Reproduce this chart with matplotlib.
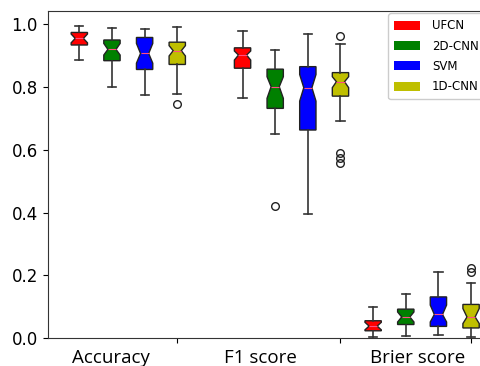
import numpy as np
import matplotlib
matplotlib.use("Agg")
import matplotlib.pyplot as plt
from matplotlib.patches import Patch

# methods and metrics
methods = ["UFCN", "2D-CNN", "SVM", "1D-CNN"]
colors = ["r", "g", "b", "y"]
metrics = ["Accuracy", "F1 score", "Brier score"]
positions = [[1, 2, 3, 4], [6, 7, 8, 9], [10, 11, 12, 13]]

# box stats, per metric, per method
acc_med = [0.955, 0.920, 0.907, 0.916]
acc_q1 = [0.934, 0.884, 0.856, 0.872]
acc_q3 = [0.974, 0.950, 0.958, 0.943]
acc_lo = [0.887, 0.801, 0.774, 0.778]
acc_hi = [0.994, 0.987, 0.984, 0.992]
acc_cilo = [0.941, 0.902, 0.876, 0.899]
acc_cihi = [0.969, 0.939, 0.939, 0.932]
acc_fliers = [[], [], [], [0.746]]

f1_med = [0.902, 0.801, 0.798, 0.817]
f1_q1 = [0.860, 0.732, 0.663, 0.771]
f1_q3 = [0.925, 0.857, 0.865, 0.846]
f1_lo = [0.765, 0.649, 0.394, 0.693]
f1_hi = [0.979, 0.918, 0.968, 0.937]
f1_cilo = [0.886, 0.764, 0.755, 0.798]
f1_cihi = [0.915, 0.833, 0.840, 0.833]
f1_fliers = [[], [0.421], [], [0.963, 0.589, 0.573, 0.557]]

br_med = [0.038, 0.067, 0.075, 0.067]
br_q1 = [0.023, 0.043, 0.037, 0.032]
br_q3 = [0.055, 0.092, 0.131, 0.107]
br_lo = [0.002, 0.007, 0.011, 0.004]
br_hi = [0.099, 0.139, 0.210, 0.176]
br_cilo = [0.026, 0.051, 0.051, 0.046]
br_cihi = [0.050, 0.083, 0.105, 0.094]
br_fliers = [[], [], [], [0.222, 0.210]]

groups = [
    (acc_med, acc_q1, acc_q3, acc_lo, acc_hi, acc_cilo, acc_cihi, acc_fliers),
    (f1_med, f1_q1, f1_q3, f1_lo, f1_hi, f1_cilo, f1_cihi, f1_fliers),
    (br_med, br_q1, br_q3, br_lo, br_hi, br_cilo, br_cihi, br_fliers),
]

fig = plt.figure(figsize=(4.8, 3.66), dpi=100)
ax = fig.add_axes([0.0994, 0.0765, 0.95, 0.8943])

for g, (med, q1, q3, lo, hi, cilo, cihi, fl) in enumerate(groups):
    stats = []
    for i in range(4):
        stats.append(dict(med=med[i], q1=q1[i], q3=q3[i], whislo=lo[i],
                          whishi=hi[i], cilo=cilo[i], cihi=cihi[i],
                          fliers=np.array(fl[i])))
    bp = ax.bxp(stats, positions=positions[g], widths=0.5, shownotches=True,
                patch_artist=True, manage_ticks=False,
                boxprops=dict(edgecolor="#222222", linewidth=1.0),
                whiskerprops=dict(color="#333333", linewidth=1.2),
                capprops=dict(color="#333333", linewidth=1.2),
                medianprops=dict(color="#ff4d80", linewidth=0.8),
                flierprops=dict(marker="o", markerfacecolor="none",
                                markeredgecolor="#222222", markersize=5.5))
    for patch, c in zip(bp["boxes"], colors):
        patch.set_facecolor(c)

ax.set_xlim(0.032, 14)
ax.set_ylim(0, 1.0434)
ax.set_yticks([0.0, 0.2, 0.4, 0.6, 0.8, 1.0])
ax.tick_params(axis="y", labelsize=12)

ax.set_xticks([4, 9, 13])
ax.set_xticklabels(["", "", ""])
ax.set_xticks([1.97, 6.54, 11.36], minor=True)
ax.set_xticklabels(metrics, minor=True, fontsize=13.5, family="Open Sans")
ax.tick_params(axis="x", which="minor", length=0, pad=8)

for s in ax.spines.values():
    s.set_color("#333333")

handles = [Patch(facecolor=c, label=m) for c, m in zip(colors, methods)]
fig.legend(handles=handles, loc="upper left", bbox_to_anchor=(0.809, 0.9637),
           borderaxespad=0, fontsize=8.5, framealpha=1.0,
           handlelength=2.2, handleheight=0.8, handletextpad=1.0,
           labelspacing=0.62, borderpad=0.5)

fig.savefig("out.png", dpi=100)
